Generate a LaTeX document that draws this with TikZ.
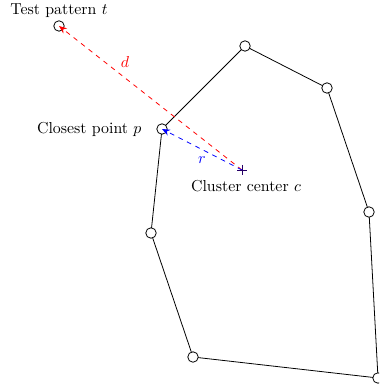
\documentclass[tikz,border=0pt]{standalone}
\usetikzlibrary{arrows.meta,calc}
\begin{document}
\begin{tikzpicture}[x=0.63pt,y=-0.63pt,
  vtx/.style={circle,draw=black,fill=white,inner sep=0pt,minimum size=6.6pt,line width=0.5pt},
  edge/.style={draw=black,line width=0.5pt},
  conn/.style={dashed,line width=0.5pt,-{Stealth[length=5pt,width=4pt]}},
  lbl/.style={inner sep=1pt}]
\useasboundingbox (0,0) rectangle (379,386);
\begin{scope}
\clip (0,0) rectangle (379,386);
\coordinate (t) at (59,26);
\coordinate (c) at (242,170);
\coordinate (p) at (162,129);
\draw[edge] (p) -- (245,46) -- (327,88) -- (369,212) -- (378,378) -- (193,357) -- (151,233) -- cycle;
\node[vtx] (tn) at (t) {};
\node[vtx] (v1) at (245,46) {};
\node[vtx] (v2) at (327,88) {};
\node[vtx] (v3) at (369,212) {};
\node[vtx] (v4) at (378,378) {};
\node[vtx] (v5) at (193,357) {};
\node[vtx] (v6) at (151,233) {};
\node[vtx] (pn) at (p) {};
\draw[conn,red] (c) -- (t);
\draw[conn,blue] (c) -- (p);
\draw[black!75!red!60!blue,line width=0.6pt] ($(c)+(-5,0)$) -- ($(c)+(5,0)$) ($(c)+(0,-5)$) -- ($(c)+(0,5)$);
\end{scope}
\node[lbl,text=red] (dl) at (125,62) {$d$};
\node[lbl,text=blue] (rl) at (202,160) {$r$};
\node (tl) at (59,11) {Test pattern $t$};
\node[anchor=east] (pl) at (147,129) {Closest point $p$};
\node (cl) at (246,186) {Cluster center $c$};
\end{tikzpicture}
\end{document}
